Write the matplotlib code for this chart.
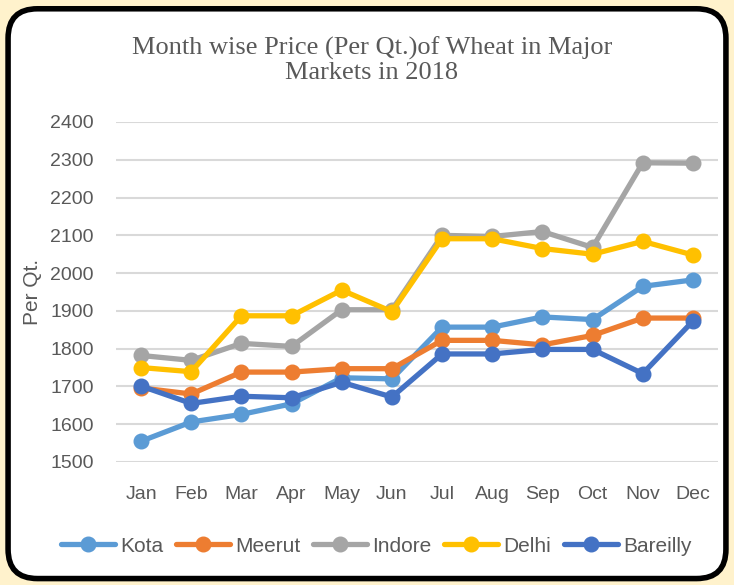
import matplotlib.pyplot as plt
from matplotlib.patches import FancyBboxPatch

months = ['Jan', 'Feb', 'Mar', 'Apr', 'May', 'Jun', 'Jul', 'Aug', 'Sep', 'Oct', 'Nov', 'Dec']
kota = [1555, 1606, 1626, 1654, 1723, 1720, 1857, 1857, 1884, 1877, 1965, 1982]
meerut = [1696, 1680, 1738, 1738, 1747, 1747, 1822, 1822, 1810, 1835, 1881, 1881]
indore = [1782, 1769, 1814, 1806, 1903, 1903, 2100, 2097, 2110, 2068, 2292, 2291]
delhi = [1750, 1739, 1887, 1887, 1955, 1898, 2091, 2091, 2065, 2050, 2084, 2048]
bareilly = [1701, 1655, 1674, 1670, 1711, 1672, 1786, 1786, 1798, 1798, 1734, 1873]

series = [('Kota', kota, '#5B9BD5'), ('Meerut', meerut, '#ED7D31'),
          ('Indore', indore, '#A5A5A5'), ('Delhi', delhi, '#FFC000'),
          ('Bareilly', bareilly, '#4472C4')]

plt.rcParams['font.family'] = ['Liberation Sans', 'DejaVu Sans']

fig = plt.figure(figsize=(7.34, 5.85), dpi=100)
fig.patch.set_facecolor('#FFF2CC')

# white rounded panel with black border (behind the axes)
panel = FancyBboxPatch((0.011, 0.011), 0.978, 0.974, boxstyle='round,pad=0,rounding_size=0.04',
                       transform=fig.transFigure, facecolor='white', edgecolor='black',
                       linewidth=4, zorder=-5, mutation_aspect=734 / 585)
fig.patches.append(panel)

ax = fig.add_axes([116 / 734, 1 - 462 / 585, 602 / 734, 340 / 585])
ax.set_facecolor('none')

x = list(range(len(months)))
for name, vals, col in series:
    ax.plot(x, vals, color=col, linewidth=3.8, marker='o', markersize=10.5, label=name,
            solid_capstyle='round', zorder=3)

ax.set_xlim(-0.5, 11.5)
ax.set_ylim(1500, 2400)
ax.set_yticks(range(1500, 2401, 100))
ax.set_xticks(x)
ax.set_xticklabels(months)
ax.grid(axis='y', color='#D9D9D9', linewidth=1.5, zorder=0)
for s in ax.spines.values():
    s.set_visible(False)
ax.tick_params(length=0, labelsize=14, colors='#595959')
ax.tick_params(axis='x', pad=17)
ax.tick_params(axis='y', pad=16)
ax.set_ylabel('Per Qt.', fontsize=15, color='#595959', labelpad=6)

fig.text(372 / 734, 1 - 60 / 585, 'Month wise Price (Per Qt.)of Wheat in Major\nMarkets in 2018',
         ha='center', va='center', fontsize=19, color='#595959',
         family=['Liberation Serif', 'DejaVu Serif'], linespacing=1.1)

fig.legend(loc='center', bbox_to_anchor=(376 / 734, 1 - 546 / 585), ncol=5, frameon=False,
           fontsize=15, handlelength=2.6, handletextpad=0.25, columnspacing=0.6,
           labelcolor='#595959')

fig.savefig('out.png', dpi=100, facecolor=fig.get_facecolor())
